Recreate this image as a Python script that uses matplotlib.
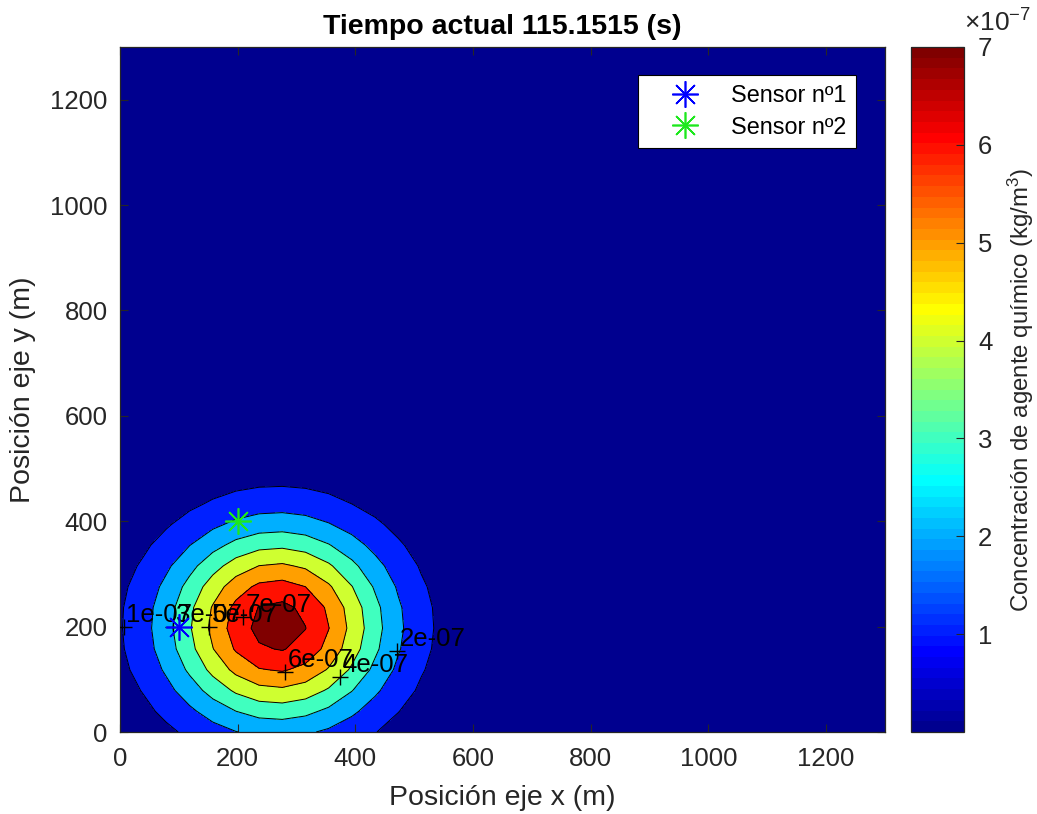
import numpy as np
import matplotlib
matplotlib.use("Agg")
import matplotlib.pyplot as plt
from matplotlib.colors import ListedColormap, Normalize
from matplotlib.cm import ScalarMappable

plt.rcParams['font.family'] = ['Liberation Sans', 'DejaVu Sans']
plt.rcParams['mathtext.fontset'] = 'custom'
plt.rcParams['mathtext.rm'] = 'Liberation Sans'
plt.rcParams['mathtext.it'] = 'Liberation Sans'
plt.rcParams['mathtext.bf'] = 'Liberation Sans:bold'

# ---------------- data ----------------
title_text = "Tiempo actual 115.1515 (s)"
x_label = "Posición eje x (m)"
y_label = "Posición eje y (m)"
cbar_label = "Concentración de agente químico (kg/m$^{3}$)"

domain_max = 1300.0          # m
grid_points = 34             # coarse simulation grid
peak_conc = 7.5e-7           # kg/m^3 at plume centre
plume_center_x = 268.0       # m
plume_center_y = 202.0       # m
plume_sigma = 131.0          # m

contour_levels = [1e-7, 2e-7, 3e-7, 4e-7, 5e-7, 6e-7, 7e-7]
fill_levels = [0.0] + contour_levels + [8e-7]
clim = [0.0, 7e-7]

cbar_ticks = [1e-7, 2e-7, 3e-7, 4e-7, 5e-7, 6e-7, 7e-7]
cbar_ticklabels = ["1", "2", "3", "4", "5", "6", "7"]
axis_ticks = [0, 200, 400, 600, 800, 1000, 1200]

# contour label positions
label_levels = [1e-7, 3e-7, 5e-7, 7e-7, 6e-7, 4e-7, 2e-7]
label_x = [6, 90, 151, 209, 280, 374, 471]
label_y = [200, 200, 200, 218, 114, 104, 154]

sensor_names = ["Sensor nº1", "Sensor nº2"]
sensor_x = [100, 200]
sensor_y = [200, 400]
sensor_colors = ["#0000ff", "#1ee81e"]

# ---------------- field ----------------
xg = np.linspace(0, domain_max, grid_points)
yg = np.linspace(0, domain_max, grid_points)
X, Y = np.meshgrid(xg, yg)
C = peak_conc * np.exp(-((X - plume_center_x) ** 2 + (Y - plume_center_y) ** 2)
                       / (2 * plume_sigma ** 2))

# MATLAB jet(64)
def matlab_jet(m=64):
    n = int(np.ceil(m / 4))
    u = np.concatenate([np.arange(1, n + 1) / n, np.ones(n - 1), np.arange(n, 0, -1) / n])
    g = int(np.ceil(n / 2)) - (1 if m % 4 == 1 else 0) + np.arange(1, len(u) + 1)
    r = g + n
    b = g - n
    J = np.zeros((m, 3))
    mk = r <= m
    J[r[mk] - 1, 0] = u[mk]
    mk = g <= m
    J[g[mk] - 1, 1] = u[mk]
    mk = b >= 1
    J[b[mk] - 1, 2] = u[-mk.sum():]
    return J

jet64 = matlab_jet(64)
cmap = ListedColormap(jet64)

def level_color(v):
    idx = int(np.floor((v - clim[0]) / (clim[1] - clim[0]) * 64))
    idx = min(max(idx, 0), 63)
    return tuple(jet64[idx])

fill_colors = [level_color(v) for v in fill_levels[:-1]]

# ---------------- figure ----------------
W, H = 1037, 814
fig = plt.figure(figsize=(W / 100, H / 100), dpi=100)
ax = fig.add_axes([120 / W, 82 / H, 765 / W, 685 / H])
cax = fig.add_axes([911 / W, 82 / H, 53 / W, 685 / H])

txt_color = "#262626"
ax.contourf(X, Y, C, levels=fill_levels, colors=fill_colors)
ax.contour(X, Y, C, levels=contour_levels, colors="k", linewidths=0.7)

for lv, lx, ly in zip(label_levels, label_x, label_y):
    ax.plot(lx, ly, marker="+", color="k", markersize=12, markeredgewidth=1.0,
            linestyle="none", zorder=5)
    ax.annotate(f"{lv:.0e}", (lx, ly), xytext=(2.0, 3.5), textcoords="offset points",
                ha="left", va="baseline", fontsize=18.5, color="k", zorder=6)

handles = []
for name, sx, sy, sc in zip(sensor_names, sensor_x, sensor_y, sensor_colors):
    h, = ax.plot(sx, sy, linestyle="none", marker=(8, 2, 0), markersize=19,
                 markeredgewidth=1.2, color=sc, label=name, zorder=7)
    handles.append(h)

ax.set_xlim(0, domain_max)
ax.set_ylim(0, domain_max)
ax.set_xticks(axis_ticks)
ax.set_yticks(axis_ticks)
ax.tick_params(axis="y", pad=9)
ax.tick_params(axis="x", pad=11)
ax.tick_params(direction="in", top=True, right=True, length=6, width=0.8,
               labelsize=18.5, labelcolor=txt_color, color=txt_color)
for s in ax.spines.values():
    s.set_color(txt_color)
    s.set_linewidth(0.9)

ax.set_title(title_text, fontsize=20.5, fontweight="bold", color="k", pad=9)
ax.set_xlabel(x_label, fontsize=20.5, color=txt_color, labelpad=10)
ax.set_ylabel(y_label, fontsize=20.5, color=txt_color, labelpad=10)

leg = ax.legend(handles=handles, loc="upper right",
                bbox_to_anchor=((856 - 120) / 765, (732 - 75) / 685),
                borderaxespad=0, fontsize=16.8, frameon=True, fancybox=False,
                framealpha=1, edgecolor="k", handlelength=3.2, handletextpad=0.4,
                borderpad=0.4, labelspacing=0.35)
leg.get_frame().set_linewidth(0.8)
for t in leg.get_texts():
    t.set_color("k")

sm = ScalarMappable(norm=Normalize(clim[0], clim[1]), cmap=cmap)
cb = fig.colorbar(sm, cax=cax)
cb.set_ticks(cbar_ticks)
cb.set_ticklabels(cbar_ticklabels)
cax.tick_params(direction="in", length=6, width=0.8, labelsize=18.5,
                labelcolor=txt_color, color=txt_color, pad=10)
cb.outline.set_edgecolor(txt_color)
cb.outline.set_linewidth(0.9)
cb.set_label(cbar_label, fontsize=17.3, color=txt_color, labelpad=10)
fig.text(964 / W, 1 - 32 / H, "×10$^{-7}$", fontsize=19, color=txt_color,
         ha="left", va="baseline")

fig.savefig("out.png", dpi=100)
